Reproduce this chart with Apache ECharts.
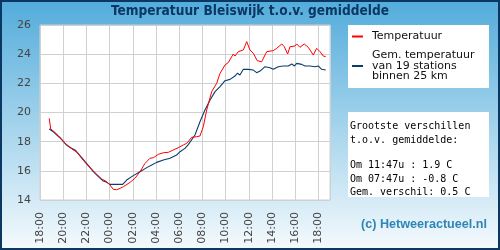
<!DOCTYPE html>
<html>
<head>
<meta charset="utf-8">
<script src="https://cdn.jsdelivr.net/npm/echarts@6/dist/echarts.min.js"></script>
<style>
  html, body { margin: 0; padding: 0; }
  #chart { width: 500px; height: 250px; }
</style>
</head>
<body>
<div id="chart"></div>
<script>
// uren na 18:00 en temperaturen
const tempUren = [0.80, 0.92, 1.15, 1.58, 1.72, 2.16, 2.59, 2.87, 3.16, 3.59, 4.03, 4.46, 4.89, 5.32, 5.75, 6.03, 6.32, 6.61, 6.90, 7.18, 7.76, 8.19, 8.62, 9.05, 9.48, 9.77, 10.20, 10.63, 11.06, 11.49, 11.92, 12.35, 12.65, 13.08, 13.51, 13.79, 14.08, 14.37, 14.80, 15.23, 15.52, 15.95, 16.23, 16.66, 16.81, 17.09, 17.53, 17.82, 18.10, 18.39, 18.73, 19.11, 19.54, 20.11, 20.41, 20.84, 21.06, 21.35, 21.55, 21.98, 22.13, 22.41, 22.78, 23.13, 23.56, 23.85, 24.14, 24.42, 24.63];
const temperatuur = [19.6, 18.87, 18.73, 18.4, 18.3, 17.9, 17.6, 17.43, 17.3, 16.86, 16.45, 16.1, 15.76, 15.44, 15.26, 15.03, 14.73, 14.7, 14.8, 14.91, 15.21, 15.49, 15.94, 16.51, 16.86, 16.9, 17.13, 17.24, 17.27, 17.43, 17.59, 17.77, 17.89, 18.3, 18.34, 18.39, 19.03, 20.17, 21.43, 22.0, 22.69, 23.26, 23.42, 24.01, 23.87, 24.17, 24.29, 24.86, 24.29, 24.06, 23.55, 23.48, 24.17, 24.24, 24.4, 24.7, 24.51, 24.01, 24.51, 24.56, 24.7, 24.47, 24.7, 24.47, 23.94, 24.4, 24.17, 23.87, 23.83];

const gemUren = [0.80, 1.15, 1.72, 2.29, 2.59, 3.02, 3.45, 4.03, 4.60, 5.03, 5.46, 5.75, 6.03, 7.13, 7.47, 8.04, 8.62, 9.20, 9.63, 10.06, 10.63, 11.21, 11.78, 12.07, 12.50, 12.78, 13.36, 13.79, 14.22, 14.66, 15.09, 15.52, 15.95, 16.38, 16.81, 17.01, 17.24, 17.53, 17.96, 18.39, 18.68, 18.97, 19.40, 19.83, 20.11, 20.54, 20.97, 21.41, 21.70, 21.93, 22.13, 22.56, 22.84, 23.28, 23.71, 23.99, 24.28, 24.63];
const gemiddelde = [18.87, 18.68, 18.27, 17.77, 17.6, 17.43, 17.04, 16.5, 15.94, 15.6, 15.3, 15.21, 15.07, 15.07, 15.37, 15.67, 15.94, 16.22, 16.4, 16.58, 16.74, 16.86, 17.08, 17.31, 17.54, 17.8, 18.46, 19.37, 20.17, 20.86, 21.43, 21.77, 22.18, 22.27, 22.5, 22.69, 22.57, 22.96, 22.96, 22.91, 22.73, 22.84, 23.14, 23.07, 22.96, 23.14, 23.19, 23.19, 23.33, 23.19, 23.37, 23.3, 23.19, 23.19, 23.14, 23.19, 22.96, 22.91];

const infoKop = ["Grootste verschillen", "t.o.v. gemiddelde:"];
const infoRegels = ["Om 11:47u : 1.9 C", "Om 07:47u : -0.8 C", "Gem. verschil: 0.5 C"];

const naamTemp = "Temperatuur";
const naamGem = "Gem. temperatuur\nvan 19 stations\nbinnen 25 km";

const myChart = echarts.init(document.getElementById("chart"));

var option = {
  animation: false,
  title: {
    text: "Temperatuur Bleiswijk t.o.v. gemiddelde",
    left: "center",
    top: -1,
    textStyle: {
      fontFamily: "DejaVu Sans Condensed, DejaVu Sans",
      fontWeight: "bold",
      fontSize: 13.6,
      color: "#0b3763",
    },
  },
  graphic: [
    {
      type: "rect",
      z: -100,
      silent: true,
      shape: { x: 1, y: 1, width: 498, height: 248 },
      style: {
        fill: {
          type: "linear", x: 0, y: 0, x2: 0, y2: 1,
          colorStops: [
            { offset: 0, color: "#52acdb" },
            { offset: 1, color: "#f5fafd" },
          ],
        },
        stroke: "#0b3763",
        lineWidth: 2,
      },
    },
    // wit vak achter de legenda
    {
      type: "rect",
      z: 1,
      silent: true,
      shape: { x: 348, y: 25, width: 141, height: 63 },
      style: { fill: "#ffffff" },
    },
    // wit vak met verschillen
    {
      type: "rect",
      z: 1,
      silent: true,
      shape: { x: 348, y: 112, width: 141, height: 85 },
      style: { fill: "#ffffff" },
    },
    {
      type: "text",
      z: 5,
      left: 350,
      top: 119,
      style: {
        text: infoKop.join("\n"),
        font: '10px "DejaVu Sans Mono"',
        lineHeight: 14.5,
        fill: "#000",
      },
    },
    {
      type: "text",
      z: 5,
      left: 350,
      top: 159,
      style: {
        text: infoRegels.join("\n"),
        font: '10px "DejaVu Sans Mono"',
        lineHeight: 13.5,
        fill: "#000",
      },
    },
    {
      type: "text",
      z: 5,
      left: 361,
      top: 218,
      style: {
        text: "(c) Hetweeractueel.nl",
        font: 'bold 12.6px "Liberation Sans"',
        fill: "#2e86b5",
      },
    },
  ],
  legend: {
    orient: "vertical",
    left: 347,
    top: 26,
    selectedMode: false,
    icon: "rect",
    itemWidth: 11,
    itemHeight: 2,
    itemGap: 8,
    textStyle: {
      fontFamily: "DejaVu Sans",
      fontSize: 11,
      lineHeight: 10.5,
      color: "#111",
      padding: [0, 0, 0, 4],
    },
    data: [naamTemp, naamGem],
  },
  grid: {
    left: 40,
    top: 25,
    width: 290,
    height: 175,
    show: true,
    backgroundColor: "#ffffff",
    borderColor: "#d0d0d0",
    borderWidth: 1,
  },
  xAxis: {
    type: "value",
    min: 0,
    max: 25,
    interval: 2,
    axisLine: { show: false },
    axisTick: { show: false },
    splitLine: { lineStyle: { color: "#d0d0d0", width: 1 } },
    axisLabel: {
      rotate: 90,
      margin: 12,
      showMaxLabel: false,
      fontFamily: "DejaVu Sans",
      fontSize: 11,
      color: "#444",
      formatter: function (v) {
        return String((18 + v) % 24).padStart(2, "0") + ":00";
      },
    },
  },
  yAxis: {
    type: "value",
    min: 14,
    max: 26,
    interval: 2,
    axisLine: { show: false },
    axisTick: { show: false },
    splitLine: { lineStyle: { color: "#d0d0d0", width: 1 } },
    axisLabel: {
      margin: 9,
      fontFamily: "DejaVu Sans",
      fontSize: 11,
      color: "#444",
    },
  },
  series: [
    {
      name: naamTemp,
      type: "line",
      showSymbol: false,
      color: "#ff0000",
      lineStyle: { width: 1, color: "#ff0000" },
      data: tempUren.map((u, i) => [u, temperatuur[i]]),
      z: 3,
    },
    {
      name: naamGem,
      type: "line",
      showSymbol: false,
      color: "#0b3d6b",
      lineStyle: { width: 1.1, color: "#0b3d6b" },
      data: gemUren.map((u, i) => [u, gemiddelde[i]]),
      z: 2,
    },
  ],
};

myChart.setOption(option);
</script>
</body>
</html>
